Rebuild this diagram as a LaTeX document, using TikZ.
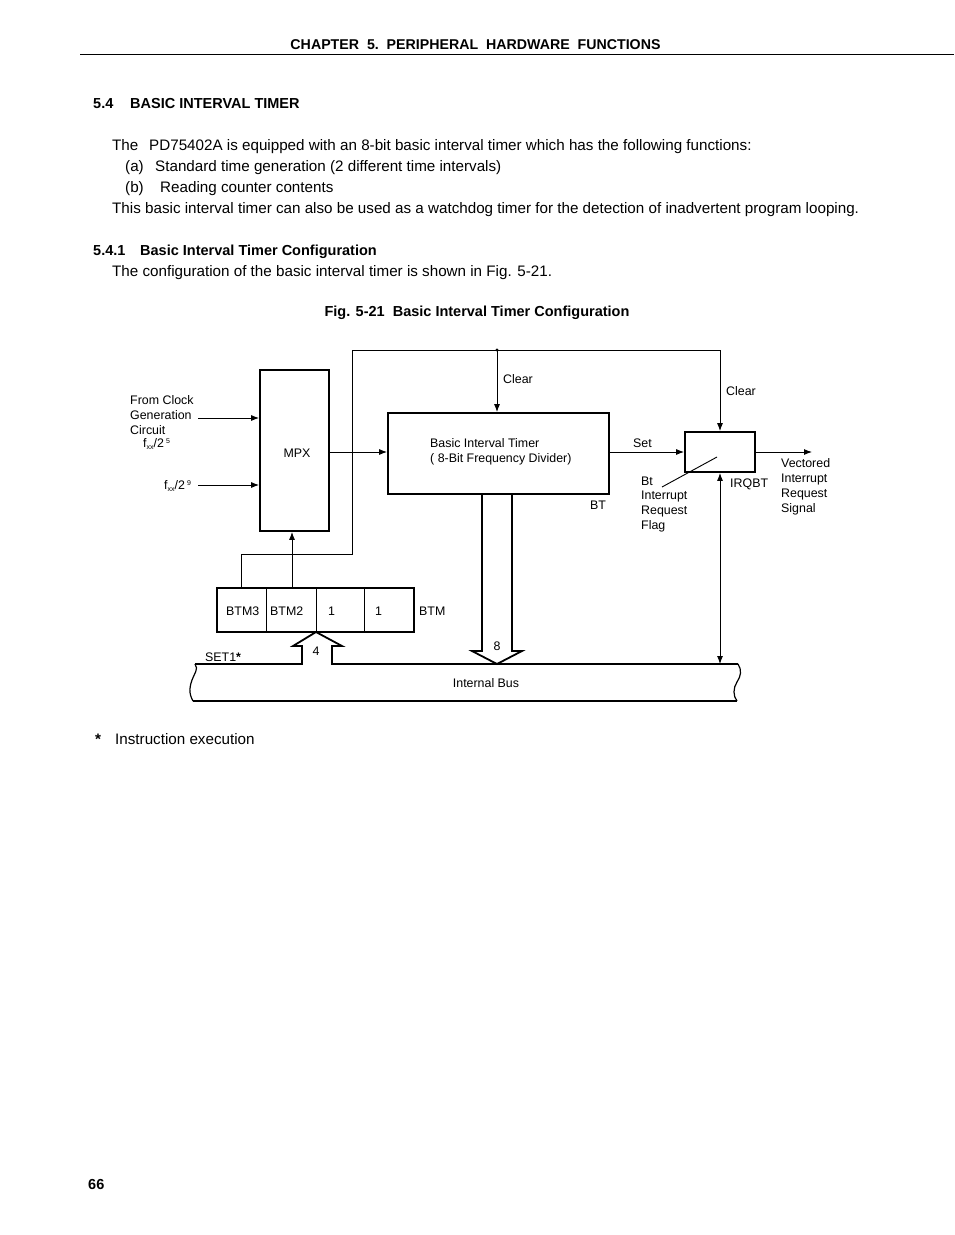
\documentclass[tikz,border=0pt]{standalone}
\usepackage{fontspec}
\setmainfont{Liberation Sans}
\newfontfamily\bodyf{Liberation Sans}
\usetikzlibrary{arrows.meta}
\newcommand{\fxx}[1]{f\raisebox{-2pt}{\fontsize{7}{7}\selectfont xx}/2\,\raisebox{4pt}{\fontsize{7}{7}\selectfont #1}}
\begin{document}
\begin{tikzpicture}[x=1pt,y=-1pt,
  lbl/.style={font=\fontsize{12.4}{14}\selectfont, inner sep=0, anchor=base west},
  lblc/.style={font=\fontsize{12.4}{14}\selectfont, inner sep=0, anchor=base},
  body/.style={font=\bodyf\fontsize{15.2}{17}\selectfont, inner sep=0, anchor=base west},
  bodyb/.style={font=\bodyf\bfseries\fontsize{14.5}{16}\selectfont, inner sep=0, anchor=base west},
  blk/.style={draw, line width=1.8pt, inner sep=0},
  thin/.style={line width=0.9pt},
  arr/.style={line width=0.9pt, -{Latex[length=8pt,width=6pt]}},
  darr/.style={line width=0.9pt, {Latex[length=8pt,width=6pt]}-{Latex[length=8pt,width=6pt]}},
  fat/.style={line width=1.8pt, line join=miter}]
\useasboundingbox (0,0) rectangle (954,1235);
% page text
\node[inner sep=0, anchor=base, font=\bodyf\bfseries\fontsize{14.2}{16}\selectfont] (hdr) at (475.5,49) {CHAPTER\ \ 5.\ \ PERIPHERAL\ \ HARDWARE\ \ FUNCTIONS};
\draw[line width=0.8pt] (80,54) -- (954,54);
\node[bodyb] (h1n) at (93,108) {5.4};
\node[bodyb] (h1) at (130,108) {BASIC INTERVAL TIMER};
\node[body] (p1a) at (112,150) {The};
\node[body] (p1) at (149,150) {PD75402A is equipped with an 8-bit basic interval timer which has the following functions:};
\node[body] (pa) at (125,171) {(a)};
\node[body] (pat) at (155,171) {Standard time generation (2 different time intervals)};
\node[body] (pb) at (125,192) {(b)};
\node[body] (pbt) at (160,192) {Reading counter contents};
\node[body] (p2) at (112,213) {This basic interval timer can also be used as a watchdog timer for the detection of inadvertent program looping.};
\node[bodyb] (h2n) at (93,255) {5.4.1};
\node[bodyb] (h2) at (140,255) {Basic Interval Timer Configuration};
\node[body] (p3) at (112,276) {The configuration of the basic interval timer is shown in Fig. 5-21.};
\node[inner sep=0, anchor=base, font=\bodyf\bfseries\fontsize{14.5}{16}\selectfont] (cap) at (477,316) {Fig. 5-21\ \ Basic Interval Timer Configuration};
\node[body] (fn1) at (95,744) {\textbf{*}};
\node[body] (fn) at (115,744) {Instruction execution};
\node[bodyb] (pg) at (88,1189) {66};

% blocks
\node[blk, minimum width=69pt, minimum height=161pt] (mpx) at (294.5,450.5) {};
\node[lblc] at (297,457) {MPX};
\node[blk, minimum width=221pt, minimum height=81pt] (bt) at (498.5,453.5) {};
\node[lbl] at (430,447) {Basic Interval Timer};
\node[lbl] at (430,462) {( 8-Bit Frequency Divider)};
\node[blk, minimum width=70pt, minimum height=40pt] (flag) at (720,452) {};
\draw[thin] (662,487) -- (717,457);

% BTM register
\node[draw, line width=0.9pt, minimum width=49pt, minimum height=44pt, inner sep=0] (c3) at (241.5,610) {};
\node[draw, line width=0.9pt, minimum width=50pt, minimum height=44pt, inner sep=0] (c2) at (291,610) {};
\node[draw, line width=0.9pt, minimum width=48pt, minimum height=44pt, inner sep=0] (c1) at (340,610) {};
\node[draw, line width=0.9pt, minimum width=50pt, minimum height=44pt, inner sep=0] (c0) at (389,610) {};
\draw[line width=1.8pt] (217,588) rectangle (414,632);
\node[lbl] at (226,615) {BTM3};
\node[lbl] at (270,615) {BTM2};
\node[lbl] at (328,615) {1};
\node[lbl] at (375,615) {1};
\node[lbl] at (419,615) {BTM};

% inputs
\coordinate (i1) at (198,418);
\coordinate (i2) at (198,485);
\draw[arr] (i1) -- (i1 -| mpx.west);
\draw[arr] (i2) -- (i2 -| mpx.west);
\node[lbl] at (130,404) {From Clock};
\node[lbl] at (130,419) {Generation};
\node[lbl] at (130,434) {Circuit};
\node[lbl] at (143,447) {\fxx{5}};
\node[lbl] at (164,489) {\fxx{9}};

% MPX -> BT
\coordinate (m1) at (329,452);
\draw[arr] (m1) -- (m1 -| bt.west);

% clear loop
\coordinate (tl) at (352,350);
\coordinate (tr) at (720,350);
\coordinate (dot) at (497,350);
\coordinate (lb) at (352,554);
\coordinate (ll) at (241,554);
\draw[thin] (c3.north -| ll) -- (ll) -- (lb) -- (tl) -- (tr);
\draw[arr] (tr) -- (flag.north);
\draw[arr] (dot) -- (dot |- bt.north);
\fill (dot) circle (1.6pt);
\node[lbl] at (503,383) {Clear};
\node[lbl] at (726,395) {Clear};
\coordinate (b2) at (292,588);
\draw[arr] (b2) -- (b2 |- mpx.south);

% set / output
\draw[arr] (bt.east |- flag.west) -- (flag.west);
\node[lbl] at (633,447) {Set};
\coordinate (out) at (812,452);
\draw[arr] (flag.east) -- (out);
\node[lbl] at (590,509) {BT};
\node[lbl] at (641,485) {Bt};
\node[lbl] at (641,499) {Interrupt};
\node[lbl] at (641,514) {Request};
\node[lbl] at (641,529) {Flag};
\node[lbl] at (730,487) {IRQBT};
\node[lbl] at (781,467) {Vectored};
\node[lbl] at (781,482) {Interrupt};
\node[lbl] at (781,497) {Request};
\node[lbl] at (781,512) {Signal};

% bus
\coordinate (bus) at (720,664);
\draw[darr] (flag.south) -- (bus);
\draw[fat] (195,664) -- (302,664) -- (302,646) -- (293,646) -- (316,632) -- (342,646) -- (332,646) -- (332,664) -- (738,664);
\draw[fat] (482,494) -- (482,651) -- (472,651) -- (497,664) -- (522,651) -- (512,651) -- (512,494);
\draw[line width=1.4pt] (193,701) -- (737,701);
\draw[line width=1.2pt] (195,664) .. controls (199,669) and (194,674) .. (192,680) .. controls (190,686) and (188,692) .. (193,701);
\draw[line width=1.2pt] (738,664) .. controls (742,670) and (741,676) .. (737,682) .. controls (733,688) and (733,696) .. (737,701);
\node[lblc] at (316,655) {4};
\node[lblc] at (497,650) {8};
\node[lbl] at (205,661) {SET1\textbf{*}};
\node[lblc] at (486,687) {Internal Bus};
\end{tikzpicture}
\end{document}
